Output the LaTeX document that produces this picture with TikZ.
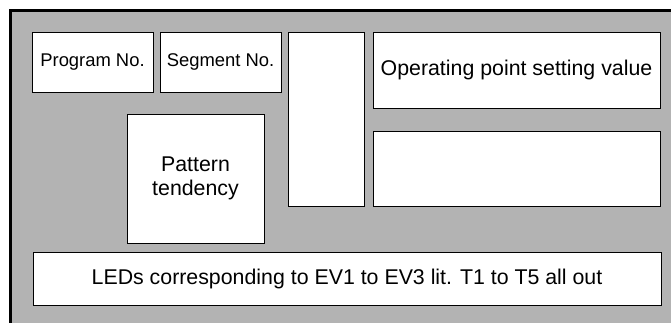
\documentclass[tikz,border=0pt]{standalone}
\usepackage{fontspec}
\setmainfont{Liberation Sans}
\definecolor{panelgray}{RGB}{179,179,179}
\tikzset{
  px/.style={x=0.75pt,y=-0.75pt},
  panel/.style={draw=black,line width=2.2pt,fill=panelgray},
  cell/.style={draw=black,line width=0.75pt,fill=white,rectangle,inner sep=0pt,align=center},
  bigtxt/.style={font=\fontsize{16}{18}\selectfont},
  smalltxt/.style={font=\fontsize{13.8}{16}\selectfont}
}
\begin{document}
\begin{tikzpicture}[px]
\useasboundingbox (0,0) rectangle (671,322);
\path[panel] (10.5,10.5) rectangle (690,340);
\node[cell,smalltxt,minimum width=90.75pt,minimum height=45pt] (prog) at (92.5,62) {Program No.};
\node[cell,smalltxt,minimum width=90.75pt,minimum height=45pt] (seg) at (220.5,62) {Segment No.};
\node[cell,minimum width=57pt,minimum height=130.5pt] (tall) at (326,119) {};
\node[cell,bigtxt,minimum width=215.25pt,minimum height=57pt] (op) at (516.5,70) {Operating point setting value};
\node[cell,minimum width=215.25pt,minimum height=56.25pt] (rbox) at (516.5,168.5) {};
\node[cell,bigtxt,minimum width=102.75pt,minimum height=96.75pt] (pat) at (195.5,178.5) {Pattern\\tendency};
\node[cell,bigtxt,minimum width=471pt,minimum height=39.75pt] (led) at (347,278.5) {LEDs corresponding to EV1 to EV3 lit. T1 to T5 all out};
\end{tikzpicture}
\end{document}
